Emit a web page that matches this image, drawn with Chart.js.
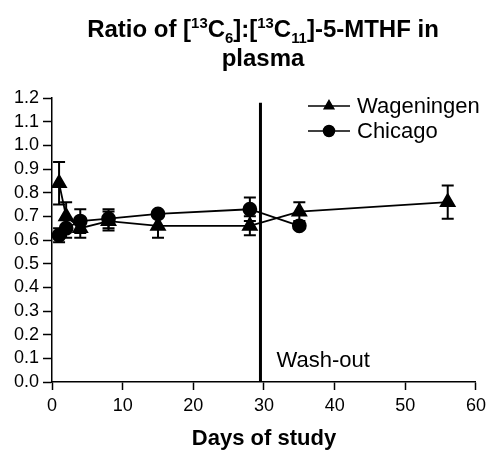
<!DOCTYPE html>
<html>
<head>
<meta charset="utf-8">
<script src="https://cdn.jsdelivr.net/npm/chart.js@4.4.0/dist/chart.umd.min.js"></script>
<style>
  body { margin: 0; background: #fff; }
  #wrap { position: relative; width: 491px; height: 455px; }
  #title {
    position: absolute; left: 35px; top: 14px; width: 456px;
    text-align: center; font: bold 24px "Liberation Sans", Arial, sans-serif;
    line-height: 29px; color: #000;
  }
  #title sup, #title sub { font-size: 0.62em; line-height: 0; }
  canvas { position: absolute; left: 0; top: 0; }
</style>
</head>
<body>
<div id="wrap">
  <canvas id="myChart" width="491" height="455"></canvas>
  <div id="title">Ratio of [<sup>13</sup>C<sub>6</sub>]:[<sup>13</sup>C<sub>11</sub>]-5-MTHF in<br>plasma</div>
</div>
<script>
// days of sampling and mean ratio (+/- SD) per study site
var wageningenDays = [1, 2, 4, 8, 15, 28, 35, 56];
var wageningen = [0.84, 0.70, 0.65, 0.68, 0.66, 0.66, 0.72, 0.76];
var wageningenSd = [0.09, 0.06, 0.04, 0.04, 0.05, 0.04, 0.04, 0.07];

var chicagoDays = [1, 2, 4, 8, 15, 28, 35];
var chicago = [0.62, 0.65, 0.68, 0.69, 0.71, 0.73, 0.66];
var chicagoSd = [0.03, 0.04, 0.05, 0.04, 0.01, 0.05, 0.01];

var washoutDay = 29.5;
var washoutTop = 1.18;

var xTicks = [0, 10, 20, 30, 40, 50, 60];
var yTicks = [0, 0.1, 0.2, 0.3, 0.4, 0.5, 0.6, 0.7, 0.8, 0.9, 1.0, 1.1, 1.2];

var FONT = '"Liberation Sans", Arial, sans-serif';

function toPoints(xs, ys) {
    return xs.map(function (x, i) { return { x: x, y: ys[i] }; });
}

// error bars under the markers
var errorBars = {
    id: 'errorBars',
    beforeDatasetsDraw: function (chart) {
        var ctx = chart.ctx;
        var yScale = chart.scales.y;
        ctx.save();
        ctx.strokeStyle = '#000';
        ctx.lineWidth = 2;
        chart.data.datasets.forEach(function (ds, di) {
            if (!ds.sd) return;
            var meta = chart.getDatasetMeta(di);
            meta.data.forEach(function (pt, i) {
                var v = ds.data[i].y;
                var top = yScale.getPixelForValue(v + ds.sd[i]);
                var bot = yScale.getPixelForValue(v - ds.sd[i]);
                ctx.beginPath();
                ctx.moveTo(pt.x, top); ctx.lineTo(pt.x, bot);
                ctx.moveTo(pt.x - 6, top); ctx.lineTo(pt.x + 6, top);
                ctx.moveTo(pt.x - 6, bot); ctx.lineTo(pt.x + 6, bot);
                ctx.stroke();
            });
        });
        ctx.restore();
    }
};

// legend and the wash-out label
var annotations = {
    id: 'annotations',
    afterDraw: function (chart) {
        var ctx = chart.ctx;
        var xs = chart.scales.x, ys = chart.scales.y;
        ctx.save();
        ctx.fillStyle = '#000';
        ctx.strokeStyle = '#000';
        ctx.font = '22px ' + FONT;
        ctx.textBaseline = 'alphabetic';
        ctx.fillText('Wash-out', xs.getPixelForValue(washoutDay) + 16, ys.getPixelForValue(0.065));

        var rows = [
            { label: 'Wageningen', style: 'triangle', y: 106 },
            { label: 'Chicago', style: 'circle', y: 131 }
        ];
        ctx.textBaseline = 'middle';
        rows.forEach(function (r) {
            ctx.lineWidth = 1.5;
            ctx.beginPath();
            ctx.moveTo(308, r.y); ctx.lineTo(350, r.y);
            ctx.stroke();
            Chart.helpers.drawPoint(ctx, { pointStyle: r.style, radius: 5.5, borderWidth: 1 }, 329, r.y);
            ctx.fill();
            ctx.fillText(r.label, 357, r.y + 1);
        });
        ctx.restore();
    }
};

var ctx = document.getElementById('myChart').getContext('2d');

var myChart = new Chart(ctx, {
    type: 'scatter',
    data: {
        datasets: [
            {
                label: 'Chicago',
                data: toPoints(chicagoDays, chicago),
                sd: chicagoSd,
                showLine: true,
                borderColor: '#000',
                backgroundColor: '#000',
                borderWidth: 1.8,
                pointStyle: 'circle',
                pointRadius: 6.5,
                order: 1
            },
            {
                label: 'Wageningen',
                data: toPoints(wageningenDays, wageningen),
                sd: wageningenSd,
                showLine: true,
                borderColor: '#000',
                backgroundColor: '#000',
                borderWidth: 1.8,
                pointStyle: 'triangle',
                pointRadius: 8,
                order: 2
            },
            {
                label: 'Wash-out',
                data: [{ x: washoutDay, y: 0 }, { x: washoutDay, y: washoutTop }],
                showLine: true,
                borderColor: '#000',
                borderWidth: 3,
                pointRadius: 0,
                order: 3
            }
        ]
    },
    options: {
        responsive: false,
        animation: false,
        layout: { padding: { top: 98, right: 13, left: 0, bottom: 0 } },
        plugins: {
            legend: { display: false },
            title: { display: false },
            tooltip: { enabled: false }
        },
        scales: {
            x: {
                type: 'linear',
                min: 0, max: 60,
                afterBuildTicks: function (s) { s.ticks = xTicks.map(function (v) { return { value: v }; }); },
                afterFit: function (s) { s.height = 73; },
                ticks: { color: '#000', font: { family: FONT, size: 18 }, padding: 5, maxRotation: 0, autoSkip: false },
                grid: { drawOnChartArea: false, tickLength: 8, tickColor: '#000', tickWidth: 1.5 },
                border: { color: '#000', width: 1.5 },
                title: { display: true, text: 'Days of study', color: '#000', font: { family: FONT, size: 22, weight: 'bold' }, padding: { top: 4, bottom: 3 } }
            },
            y: {
                min: 0, max: 1.2,
                afterBuildTicks: function (s) { s.ticks = yTicks.map(function (v) { return { value: v }; }); },
                afterFit: function (s) { s.width = 52; },
                ticks: { color: '#000', font: { family: FONT, size: 18 }, padding: 4, autoSkip: false,
                         callback: function (v) { return v.toFixed(1); } },
                grid: { drawOnChartArea: false, tickLength: 9, tickColor: '#000', tickWidth: 1.5 },
                border: { color: '#000', width: 1.5 }
            }
        }
    },
    plugins: [errorBars, annotations]
});
</script>
</body>
</html>
